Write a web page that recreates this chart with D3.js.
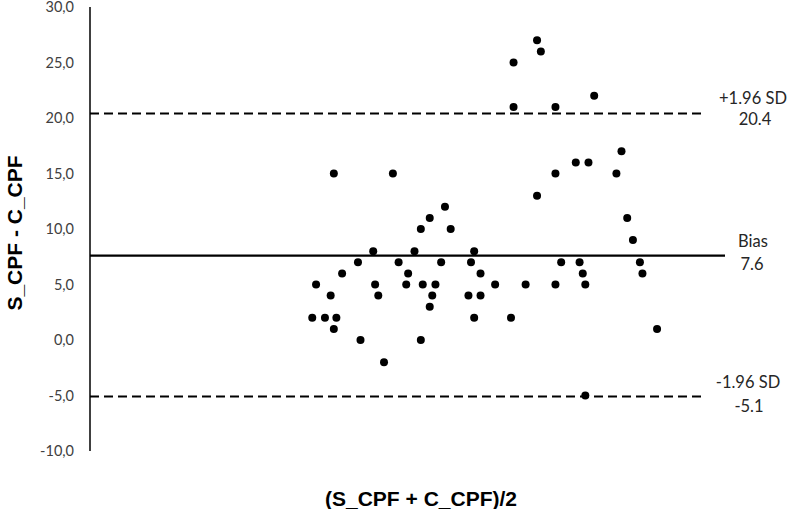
<!DOCTYPE html>
<html>
<head>
<meta charset="utf-8">
<script src="https://cdn.jsdelivr.net/npm/d3@7"></script>
<style>
    body { margin: 0; background: #fff; }
    .tick-label { font-family: Lato, sans-serif; font-size: 14.5px; fill: #404040; }
    .ref-label { font-family: Lato, sans-serif; font-size: 16.5px; fill: #262626; }
    .axisTitle { font-family: "Liberation Sans", Arial, sans-serif; font-weight: bold; font-size: 21px; fill: #000; }
</style>
</head>
<body>
<div id="chart-area"></div>
<script>
// Bland-Altman: mean of the two methods vs. their difference
var meanVals = [35.0, 35.6, 37.0, 37.9, 38.4, 38.4, 38.8, 39.7, 42.2, 42.6,
                44.6, 44.9, 45.4, 46.3, 47.7, 48.6, 49.8, 50.1, 51.1, 52.1,
                52.1, 52.4, 53.5, 53.5, 53.9, 54.4, 55.3, 55.9, 56.8, 59.6,
                60.0, 60.5, 60.5, 61.5, 61.5, 63.8, 66.3, 66.7, 66.7, 68.6,
                70.4, 70.4, 71.0, 73.3, 73.3, 73.3, 74.2, 76.5, 77.1, 77.6,
                78.0, 78.0, 78.5, 79.4, 82.9, 83.7, 84.6, 85.5, 86.6, 87.0,
                89.3];
var diffVals = [2, 5, 2, 4, 15, 1, 2, 6, 7, 0,
                8, 5, 4, -2, 15, 7, 5, 6, 8, 10,
                0, 5, 11, 3, 4, 5, 7, 12, 10, 4,
                7, 8, 2, 6, 4, 5, 2, 25, 21, 5,
                27, 13, 26, 21, 15, 5, 7, 16, 7, 6,
                5, -5, 16, 22, 15, 17, 11, 9, 7, 6,
                1];

var yTicks = [-10, -5, 0, 5, 10, 15, 20, 25, 30];

var bias = 7.6,
    upperLoA = 20.4,
    lowerLoA = -5.1;

var width = 787, height = 509;

var svg = d3.select("#chart-area").append("svg")
    .attr("width", width)
    .attr("height", height);

// Scales (no x ticks are shown in the original)
var x = d3.scaleLinear().domain([0, 100]).range([90, 725]);
var y = d3.scaleLinear().domain([-10, 30]).range([451, 7]);

var data = meanVals.map(function(m, i){ return { mean: m, diff: diffVals[i] }; });

// Y axis line
svg.append("line")
    .attr("x1", x(0)).attr("x2", x(0))
    .attr("y1", y(30)).attr("y2", y(-10))
    .attr("stroke", "#000")
    .attr("stroke-width", 1.5);

// Y tick labels, comma decimals
var fmt = function(d){ return d3.format(".1f")(d).replace(".", ",").replace("−", "-"); };
svg.selectAll(".tick-label")
    .data(yTicks)
    .enter().append("text")
    .attr("class", "tick-label")
    .attr("x", 74)
    .attr("y", function(d){ return y(d); })
    .attr("dy", "0.35em")
    .attr("text-anchor", "end")
    .text(fmt);

// Bias + limits of agreement
svg.append("line")
    .attr("x1", x(0)).attr("x2", x(100))
    .attr("y1", y(bias)).attr("y2", y(bias))
    .attr("stroke", "#000")
    .attr("stroke-width", 2.2);

[upperLoA, lowerLoA].forEach(function(v){
    svg.append("line")
        .attr("x1", x(0)).attr("x2", x(97))
        .attr("y1", y(v)).attr("y2", y(v))
        .attr("stroke", "#000")
        .attr("stroke-width", 2)
        .attr("stroke-dasharray", "9,5");
});

// Points
svg.selectAll(".dot")
    .data(data)
    .enter().append("circle")
    .attr("class", "dot")
    .attr("cx", function(d){ return x(d.mean); })
    .attr("cy", function(d){ return y(d.diff); })
    .attr("r", 4)
    .attr("fill", "#000");

// Line labels
var refLabels = [
    { t: "+1.96 SD", v: upperLoA, dy: -10, cx: 753 },
    { t: upperLoA.toFixed(1), v: upperLoA, dy: 11, cx: 755 },
    { t: "Bias", v: bias, dy: -9, cx: 753 },
    { t: bias.toFixed(1), v: bias, dy: 14, cx: 752 },
    { t: "-1.96 SD", v: lowerLoA, dy: -9, cx: 748 },
    { t: lowerLoA.toFixed(1), v: lowerLoA, dy: 15, cx: 749 }
];
svg.selectAll(".ref-label")
    .data(refLabels)
    .enter().append("text")
    .attr("class", "ref-label")
    .attr("x", function(d){ return d.cx; })
    .attr("y", function(d){ return y(d.v) + d.dy; })
    .attr("text-anchor", "middle")
    .text(function(d){ return d.t; });

// Axis titles
svg.append("text")
    .attr("class", "axisTitle")
    .attr("x", 421)
    .attr("y", 506)
    .attr("text-anchor", "middle")
    .text("(S_CPF + C_CPF)/2");

svg.append("text")
    .attr("class", "axisTitle")
    .attr("transform", "rotate(-90)")
    .attr("x", -233)
    .attr("y", 22)
    .attr("text-anchor", "middle")
    .text("S_CPF - C_CPF");
</script>
</body>
</html>
